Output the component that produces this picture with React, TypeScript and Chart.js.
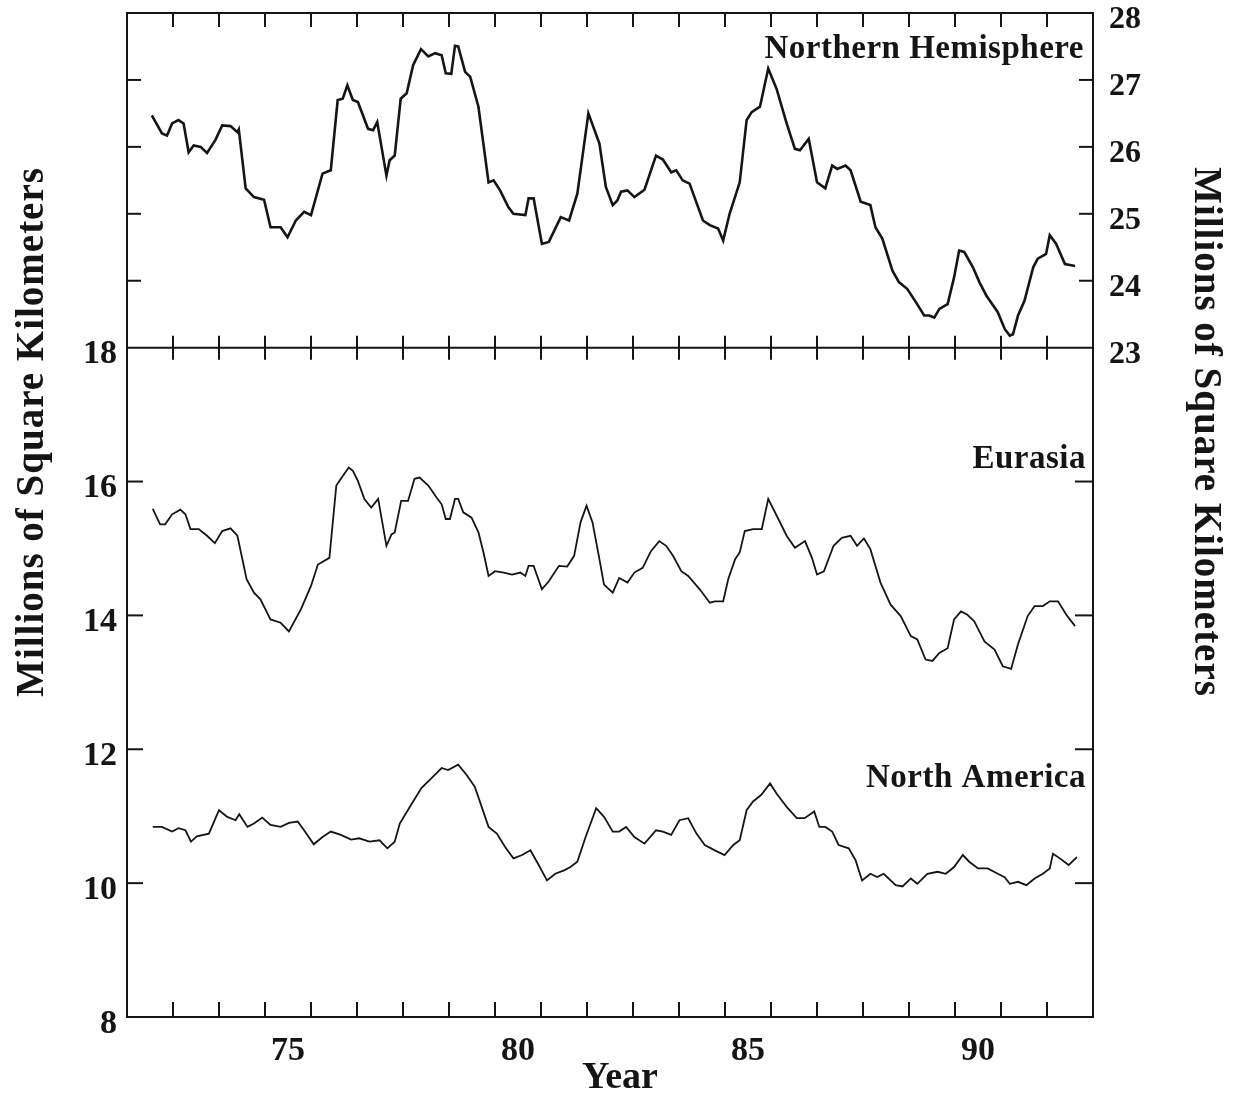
import React, { useEffect, useRef } from 'react';
import { Chart, registerables } from 'chart.js';

Chart.register(...registerables);

// ---------- data (years as two-digit decimal years) ----------
const nhYears = [
  72.54, 72.76, 72.87, 72.98, 73.12, 73.23, 73.34, 73.45, 73.6, 73.74, 73.92, 74.07, 74.25, 74.4, 74.43,
  74.58, 74.76, 74.98, 75.12, 75.34, 75.49, 75.67, 75.85, 76.0, 76.25, 76.43, 76.58, 76.69, 76.79, 76.91,
  77.02, 77.24, 77.35, 77.44, 77.64, 77.71, 77.82, 77.95, 78.08, 78.22, 78.39, 78.55, 78.7, 78.84, 78.93,
  79.05, 79.13, 79.2, 79.35, 79.46, 79.64, 79.86, 79.97, 80.11, 80.29, 80.4, 80.66, 80.73, 80.84, 81.02,
  81.17, 81.43, 81.61, 81.79, 82.03, 82.27, 82.41, 82.56, 82.66, 82.74, 82.88, 83.03, 83.25, 83.5, 83.65,
  83.83, 83.94, 84.08, 84.23, 84.52, 84.67, 84.85, 84.96, 85.1, 85.32, 85.47, 85.58, 85.76, 85.94, 86.12,
  86.34, 86.52, 86.63, 86.82, 87.0, 87.18, 87.33, 87.44, 87.62, 87.73, 87.95, 88.16, 88.27, 88.42, 88.64,
  88.78, 88.96, 89.15, 89.33, 89.44, 89.55, 89.66, 89.84, 89.98, 90.09, 90.2, 90.39, 90.53, 90.68, 90.93,
  91.08, 91.19, 91.26, 91.37, 91.51, 91.7, 91.8, 91.98, 92.06, 92.2, 92.39, 92.61,
];
const nhValues = [
  26.47, 26.2, 26.17, 26.35, 26.4, 26.35, 25.92, 26.02, 26.0, 25.91, 26.1, 26.32, 26.31, 26.22, 26.26,
  25.38, 25.25, 25.21, 24.8, 24.8, 24.65, 24.9, 25.03, 24.98, 25.6, 25.65, 26.7, 26.72, 26.92, 26.7,
  26.67, 26.27, 26.25, 26.37, 25.57, 25.8, 25.87, 26.72, 26.8, 27.22, 27.46, 27.35, 27.4, 27.37, 27.1,
  27.09, 27.51, 27.5, 27.12, 27.05, 26.6, 25.47, 25.5, 25.35, 25.1, 25.0, 24.98, 25.23, 25.23, 24.55,
  24.58, 24.95, 24.9, 25.3, 26.5, 26.05, 25.4, 25.13, 25.2, 25.33, 25.35, 25.25, 25.36, 25.87, 25.81,
  25.62, 25.65, 25.5, 25.45, 24.9, 24.83, 24.78, 24.6, 25.0, 25.47, 26.4, 26.52, 26.6, 27.17, 26.87,
  26.35, 25.97, 25.95, 26.12, 25.47, 25.38, 25.72, 25.67, 25.72, 25.65, 25.18, 25.13, 24.8, 24.63, 24.15,
  23.98, 23.88, 23.68, 23.48, 23.48, 23.45, 23.58, 23.65, 24.05, 24.45, 24.43, 24.2, 23.98, 23.78, 23.53,
  23.28, 23.18, 23.2, 23.48, 23.7, 24.2, 24.33, 24.4, 24.68, 24.55, 24.25, 24.22,
];

const eaYears = [
  72.56, 72.72, 72.83, 72.98, 73.16, 73.27, 73.38, 73.56, 73.74, 73.91, 74.07, 74.25, 74.4, 74.6, 74.76,
  74.9, 75.12, 75.34, 75.52, 75.78, 76.0, 76.15, 76.4, 76.55, 76.65, 76.82, 76.91, 77.02, 77.16, 77.31,
  77.46, 77.64, 77.75, 77.82, 77.96, 78.11, 78.25, 78.36, 78.55, 78.73, 78.84, 78.93, 79.02, 79.13, 79.2,
  79.31, 79.49, 79.64, 79.75, 79.86, 80.0, 80.19, 80.37, 80.55, 80.66, 80.73, 80.84, 81.02, 81.17, 81.39,
  81.57, 81.72, 81.86, 81.99, 82.12, 82.27, 82.37, 82.56, 82.7, 82.88, 83.03, 83.21, 83.39, 83.57, 83.72,
  83.87, 84.05, 84.2, 84.45, 84.67, 84.78, 84.96, 85.07, 85.22, 85.32, 85.43, 85.61, 85.8, 85.94, 86.16,
  86.34, 86.52, 86.74, 86.89, 87.0, 87.15, 87.36, 87.54, 87.73, 87.87, 88.02, 88.16, 88.38, 88.6, 88.82,
  89.04, 89.18, 89.36, 89.51, 89.66, 89.84, 89.98, 90.13, 90.27, 90.42, 90.64, 90.86, 91.04, 91.22, 91.37,
  91.58, 91.73, 91.91, 92.06, 92.24, 92.42, 92.61,
];
const eaValues = [
  15.59, 15.36, 15.36, 15.51, 15.58, 15.51, 15.29, 15.29, 15.19, 15.08, 15.26, 15.3, 15.19, 14.54, 14.34,
  14.24, 13.94, 13.89, 13.76, 14.09, 14.44, 14.76, 14.86, 15.94, 16.04, 16.21, 16.16, 16.01, 15.74, 15.61,
  15.74, 15.04, 15.21, 15.24, 15.71, 15.71, 16.04, 16.06, 15.94, 15.76, 15.66, 15.44, 15.44, 15.74, 15.74,
  15.54, 15.46, 15.24, 14.94, 14.59, 14.66, 14.64, 14.61, 14.64, 14.59, 14.74, 14.74, 14.39, 14.51, 14.74,
  14.73, 14.89, 15.39, 15.64, 15.39, 14.84, 14.46, 14.34, 14.56, 14.49, 14.64, 14.71, 14.96, 15.11, 15.04,
  14.89, 14.66, 14.59, 14.39, 14.19, 14.21, 14.21, 14.54, 14.84, 14.94, 15.26, 15.29, 15.29, 15.74, 15.44,
  15.19, 15.01, 15.11, 14.86, 14.61, 14.66, 15.04, 15.16, 15.19, 15.04, 15.15, 14.99, 14.49, 14.16, 13.99,
  13.69, 13.64, 13.34, 13.32, 13.44, 13.51, 13.94, 14.06, 14.01, 13.91, 13.61, 13.49, 13.24, 13.2, 13.57,
  13.99, 14.14, 14.14, 14.21, 14.21, 14.01, 13.84,
];

const naYears = [
  72.56, 72.76, 72.98, 73.12, 73.27, 73.39, 73.52, 73.78, 74.0, 74.18, 74.36, 74.44, 74.62, 74.76, 74.94,
  75.12, 75.34, 75.52, 75.71, 75.85, 76.06, 76.25, 76.43, 76.65, 76.87, 77.05, 77.27, 77.49, 77.66, 77.82,
  77.93, 78.15, 78.4, 78.62, 78.84, 78.98, 79.2, 79.38, 79.56, 79.86, 80.04, 80.22, 80.4, 80.59, 80.77,
  80.95, 81.13, 81.31, 81.5, 81.64, 81.79, 81.97, 82.2, 82.37, 82.56, 82.7, 82.85, 83.03, 83.25, 83.5,
  83.65, 83.83, 84.01, 84.2, 84.38, 84.56, 84.78, 84.99, 85.18, 85.32, 85.47, 85.61, 85.79, 85.98, 86.12,
  86.34, 86.56, 86.73, 86.94, 87.05, 87.18, 87.33, 87.47, 87.69, 87.84, 87.98, 88.16, 88.31, 88.45, 88.71,
  88.86, 89.04, 89.18, 89.4, 89.62, 89.8, 89.98, 90.17, 90.31, 90.5, 90.71, 90.93, 91.08, 91.19, 91.37,
  91.55, 91.73, 91.91, 92.06, 92.13, 92.28, 92.47, 92.65,
];
const naValues = [
  10.84, 10.84, 10.77, 10.82, 10.79, 10.62, 10.7, 10.74, 11.09, 10.99, 10.94, 11.03, 10.84, 10.89, 10.98,
  10.87, 10.84, 10.9, 10.92, 10.79, 10.58, 10.69, 10.77, 10.72, 10.65, 10.67, 10.62, 10.64, 10.52, 10.62,
  10.89, 11.14, 11.42, 11.57, 11.72, 11.69, 11.77, 11.62, 11.44, 10.84, 10.74, 10.54, 10.37, 10.42, 10.49,
  10.27, 10.04, 10.14, 10.19, 10.24, 10.32, 10.69, 11.12, 10.99, 10.77, 10.77, 10.84, 10.69, 10.59, 10.79,
  10.77, 10.72, 10.94, 10.97, 10.74, 10.57, 10.49, 10.42, 10.57, 10.64, 11.09, 11.22, 11.32, 11.49, 11.34,
  11.14, 10.97, 10.97, 11.07, 10.84, 10.84, 10.77, 10.57, 10.52, 10.34, 10.04, 10.14, 10.09, 10.14, 9.97,
  9.95, 10.07, 9.99, 10.14, 10.17, 10.14, 10.24, 10.42, 10.32, 10.22, 10.22, 10.14, 10.09, 9.99, 10.02,
  9.97, 10.07, 10.14, 10.22, 10.44, 10.37, 10.27, 10.39,
];

const xMin = 72;
const xMax = 93;
const yearLabels = [75, 80, 85, 90];
const leftTicks = [8, 10, 12, 14, 16, 18];
const rightTicks = [23, 24, 25, 26, 27, 28];
const panelSplit = 18; // left-axis value of the divider line
const axisTitle = 'Millions of Square Kilometers';
const xTitle = 'Year';
const seriesNames = ['Northern Hemisphere', 'Eurasia', 'North America'];

const INK = '#151515';
const FONT = "'Liberation Serif', 'Times New Roman', Times, serif";

const toPoints = (xs: number[], ys: number[]) => xs.map((x, i) => ({ x, y: ys[i] }));

const framePlugin = {
  id: 'frameAndLabels',
  afterDraw(chart: any) {
    const { ctx, chartArea: a, scales } = chart;
    const x = scales.x;
    const yL = scales.yL;
    const yR = scales.yR;
    const line = (x1: number, y1: number, x2: number, y2: number) => {
      ctx.beginPath();
      ctx.moveTo(x1, y1);
      ctx.lineTo(x2, y2);
      ctx.stroke();
    };
    ctx.save();
    ctx.strokeStyle = INK;
    ctx.lineWidth = 2;
    ctx.lineCap = 'butt';
    ctx.strokeRect(a.left, a.top, a.right - a.left, a.bottom - a.top);
    const mid = yL.getPixelForValue(panelSplit);
    line(a.left, mid, a.right, mid);

    for (let yr = xMin + 1; yr < xMax; yr++) {
      const px = x.getPixelForValue(yr);
      line(px, a.top, px, a.top + 14);
      line(px, mid - 12, px, mid + 12);
      line(px, a.bottom - 15, px, a.bottom);
    }
    rightTicks.slice(1, -1).forEach((v) => {
      const py = yR.getPixelForValue(v);
      line(a.left, py, a.left + 14, py);
      line(a.right - 14, py, a.right, py);
    });
    leftTicks.slice(1, -1).forEach((v) => {
      const py = yL.getPixelForValue(v);
      line(a.left, py, a.left + 16, py);
      line(a.right - 18, py, a.right, py);
    });

    ctx.fillStyle = INK;
    // axis titles
    ctx.font = `bold 39px ${FONT}`;
    (ctx as any).letterSpacing = '1px';
    ctx.textAlign = 'center';
    ctx.textBaseline = 'alphabetic';
    ctx.save();
    ctx.translate(43, 432);
    ctx.rotate(-Math.PI / 2);
    ctx.fillText(axisTitle, 0, 0);
    ctx.restore();
    ctx.save();
    ctx.translate(1195, 432);
    ctx.rotate(Math.PI / 2);
    ctx.fillText(axisTitle, 0, 0);
    ctx.restore();

    ctx.font = `bold 38px ${FONT}`;
    (ctx as any).letterSpacing = '0px';
    ctx.fillText(xTitle, 620, 1088);

    // panel labels
    ctx.font = `bold 33px ${FONT}`;
    (ctx as any).letterSpacing = '0.5px';
    ctx.textAlign = 'right';
    ctx.fillText(seriesNames[0], a.right - 9, yR.getPixelForValue(27.33));
    ctx.fillText(seriesNames[1], a.right - 7, yL.getPixelForValue(16.2));
    ctx.fillText(seriesNames[2], a.right - 7, yL.getPixelForValue(11.44));
    (ctx as any).letterSpacing = '0px';
    ctx.restore();
  },
};

const noPad = (s: any) => {
  s.paddingTop = 0;
  s.paddingBottom = 0;
  s.paddingLeft = 0;
  s.paddingRight = 0;
};

export default function App() {
  const canvasRef = useRef<HTMLCanvasElement | null>(null);

  useEffect(() => {
    if (!canvasRef.current) return;
    const tickFont = { family: FONT, size: 34, weight: 'bold' as const };
    const chart = new Chart(canvasRef.current, {
      type: 'line',
      data: {
        datasets: [
          {
            label: seriesNames[0],
            data: toPoints(nhYears, nhValues),
            yAxisID: 'yR',
            borderColor: INK,
            borderWidth: 2.6,
            pointRadius: 0,
            tension: 0,
          },
          {
            label: seriesNames[1],
            data: toPoints(eaYears, eaValues),
            yAxisID: 'yL',
            borderColor: INK,
            borderWidth: 1.8,
            pointRadius: 0,
            tension: 0,
          },
          {
            label: seriesNames[2],
            data: toPoints(naYears, naValues),
            yAxisID: 'yL',
            borderColor: INK,
            borderWidth: 1.8,
            pointRadius: 0,
            tension: 0,
          },
        ],
      },
      options: {
        animation: false,
        responsive: false,
        maintainAspectRatio: false,
        devicePixelRatio: 1,
        layout: { padding: { top: 13, left: 0, right: 0, bottom: 0 } },
        plugins: {
          legend: { display: false },
          tooltip: { enabled: false },
          title: { display: false },
        },
        scales: {
          x: {
            type: 'linear',
            position: 'bottom',
            min: xMin,
            max: xMax,
            grid: { display: false, drawTicks: false },
            border: { display: false },
            ticks: {
              stepSize: 1,
              autoSkip: false,
              maxRotation: 0,
              labelOffset: 23,
              padding: 14,
              color: INK,
              font: tickFont,
              callback: (v: any) => (yearLabels.includes(Number(v)) ? String(v) : ''),
            },
            afterFit: (s: any) => {
              s.height = 79;
              noPad(s);
            },
          },
          yL: {
            type: 'linear',
            position: 'left',
            min: 8,
            max: 23,
            grid: { display: false, drawTicks: false },
            border: { display: false },
            afterBuildTicks: (s: any) => {
              s.ticks = leftTicks.map((value) => ({ value }));
            },
            ticks: {
              padding: 10,
              labelOffset: 7,
              color: INK,
              font: tickFont,
              callback: (v: any) => String(v),
            },
            afterFit: (s: any) => {
              s.width = 127;
              noPad(s);
            },
          },
          yR: {
            type: 'linear',
            position: 'right',
            min: 13,
            max: 28,
            grid: { display: false, drawTicks: false },
            border: { display: false },
            afterBuildTicks: (s: any) => {
              s.ticks = rightTicks.map((value) => ({ value }));
            },
            ticks: {
              padding: 16,
              labelOffset: 7,
              color: INK,
              font: { family: FONT, size: 32, weight: 'bold' as const },
              callback: (v: any) => String(v),
            },
            afterFit: (s: any) => {
              s.width = 144;
              noPad(s);
            },
          },
        },
      },
      plugins: [framePlugin],
    });
    return () => chart.destroy();
  }, []);

  return (
    <div style={{ position: 'absolute', left: 0, top: 0, width: 1237, height: 1096, background: '#fff' }}>
      <canvas ref={canvasRef} width={1237} height={1096} style={{ display: 'block' }} />
    </div>
  );
}
